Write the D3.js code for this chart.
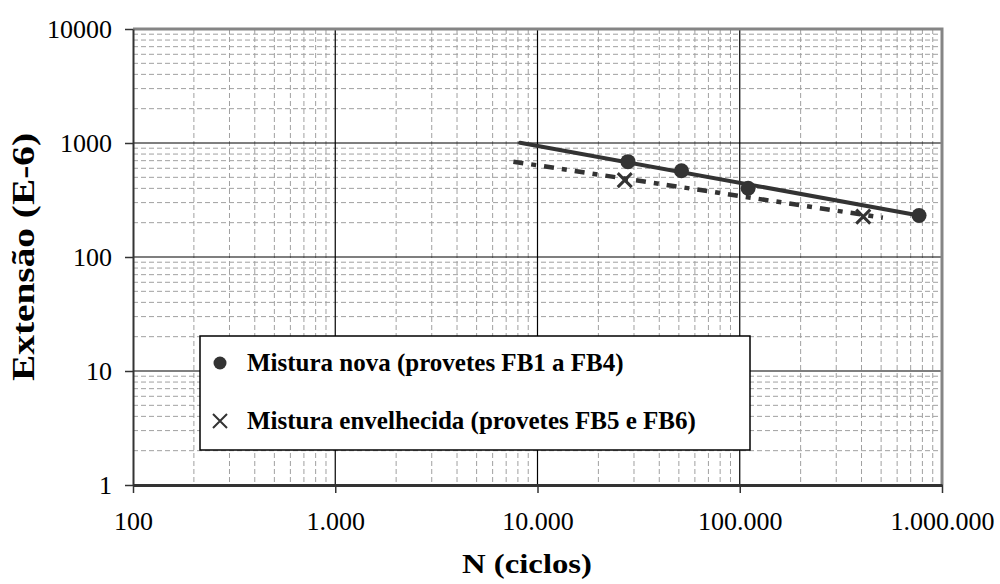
<!DOCTYPE html>
<html>
<head>
<meta charset="utf-8">
<script src="https://cdn.jsdelivr.net/npm/d3@7/dist/d3.min.js"></script>
<style>
  html, body { margin: 0; padding: 0; background: #fff; }
  svg { display: block; }
  text { font-family: "Liberation Serif", "Times New Roman", serif; fill: #000; }
</style>
</head>
<body>
<svg id="chart" width="1000" height="584"></svg>
<script>
// Fatigue results: strain (E-6) against number of cycles, log-log
const nNova = [28000, 51500, 110000, 770000];
const eNova = [686, 571, 401, 231];
const nEnvelhecida = [27000, 408000];
const eEnvelhecida = [473, 226];

// Power-law trend lines, start and end points
const trendNovaN = [8200, 770000];
const trendNovaE = [1005, 231];
const trendEnvN = [7600, 510000];
const trendEnvE = [686, 221];

const xTickValues = [100, 1000, 10000, 100000, 1000000];
const xTickLabels = ["100", "1.000", "10.000", "100.000", "1.000.000"];
const yTickValues = [1, 10, 100, 1000, 10000];
const yTickLabels = ["1", "10", "100", "1000", "10000"];

const legendLabels = [
  "Mistura nova (provetes FB1 a FB4)",
  "Mistura envelhecida (provetes FB5 e FB6)"
];

const svg = d3.select("#chart");
const plot = { left: 133, right: 942, top: 29, bottom: 485 };

const x = d3.scaleLog().domain([100, 1000000]).range([plot.left, plot.right]);
const y = d3.scaleLog().domain([1, 10000]).range([plot.bottom, plot.top]);

// minor values 2..9 inside each decade
const minorX = [];
for (let d = 100; d < 1000000; d *= 10) for (let k = 2; k <= 9; k++) minorX.push(d * k);
const minorY = [];
for (let d = 1; d < 10000; d *= 10) for (let k = 2; k <= 9; k++) minorY.push(d * k);

const grid = svg.append("g");
grid.selectAll("line.mx").data(minorX).join("line")
  .attr("x1", d => x(d)).attr("x2", d => x(d))
  .attr("y1", plot.top).attr("y2", plot.bottom)
  .attr("stroke", "#a0a0a0").attr("stroke-width", 1).attr("stroke-dasharray", "5,3");
grid.selectAll("line.my").data(minorY).join("line")
  .attr("y1", d => y(d)).attr("y2", d => y(d))
  .attr("x1", plot.left).attr("x2", plot.right)
  .attr("stroke", "#a0a0a0").attr("stroke-width", 1).attr("stroke-dasharray", "5,3");
grid.selectAll("line.Mx").data(xTickValues.slice(1, -1)).join("line")
  .attr("x1", d => x(d)).attr("x2", d => x(d))
  .attr("y1", plot.top).attr("y2", plot.bottom)
  .attr("stroke", "#000").attr("stroke-width", 1.2);
grid.selectAll("line.My").data(yTickValues.slice(1, -1)).join("line")
  .attr("y1", d => y(d)).attr("y2", d => y(d))
  .attr("x1", plot.left).attr("x2", plot.right)
  .attr("stroke", "#000").attr("stroke-width", 1.2);

// plot frame (top / right)
svg.append("path")
  .attr("d", `M${plot.left},${plot.top}H${plot.right}V${plot.bottom}`)
  .attr("fill", "none").attr("stroke", "#858585").attr("stroke-width", 3);

// axes
const xAxis = d3.axisBottom(x).tickValues(xTickValues)
  .tickFormat((d, i) => xTickLabels[i]).tickSize(8).tickSizeOuter(0);
const gx = svg.append("g").attr("transform", `translate(0,${plot.bottom})`).call(xAxis);
gx.select(".domain").attr("stroke", "#333").attr("stroke-width", 3);
gx.selectAll(".tick line").attr("stroke", "#333").attr("stroke-width", 1.5);
gx.selectAll(".tick text").attr("y", 45).attr("dy", null)
  .style("font-size", "26px").style("font-family", '"Liberation Serif", serif');

const yAxis = d3.axisLeft(y).tickValues(yTickValues)
  .tickFormat((d, i) => yTickLabels[i]).tickSize(8).tickSizeOuter(0);
const gy = svg.append("g").attr("transform", `translate(${plot.left},0)`).call(yAxis);
gy.select(".domain").attr("stroke", "#333").attr("stroke-width", 2);
gy.selectAll(".tick line").attr("stroke", "#333").attr("stroke-width", 1.5);
gy.selectAll(".tick text").attr("x", -21)
  .style("font-size", "26px").style("font-family", '"Liberation Serif", serif');

// axis titles
svg.append("text")
  .attr("x", 527).attr("y", 573)
  .attr("text-anchor", "middle")
  .attr("textLength", 130).attr("lengthAdjust", "spacingAndGlyphs")
  .style("font-size", "27px").style("font-weight", "bold")
  .text("N (ciclos)");
svg.append("text")
  .attr("transform", `translate(34,${(plot.top + plot.bottom) / 2}) rotate(-90)`)
  .attr("text-anchor", "middle")
  .attr("textLength", 248).attr("lengthAdjust", "spacingAndGlyphs")
  .style("font-size", "31px").style("font-weight", "bold")
  .text("Extensão (E-6)");

const markColor = "#333";

// trend lines
const line = d3.line().x(d => x(d[0])).y(d => y(d[1]));
svg.append("path")
  .datum(d3.zip(trendNovaN, trendNovaE))
  .attr("d", line).attr("fill", "none")
  .attr("stroke", markColor).attr("stroke-width", 4).attr("stroke-linecap", "round");
svg.append("path")
  .datum(d3.zip(trendEnvN, trendEnvE))
  .attr("d", line).attr("fill", "none")
  .attr("stroke", markColor).attr("stroke-width", 4.5)
  .attr("stroke-dasharray", "10,8,5,8");

// series markers
svg.append("g").selectAll("circle")
  .data(d3.zip(nNova, eNova)).join("circle")
  .attr("cx", d => x(d[0])).attr("cy", d => y(d[1])).attr("r", 7.5)
  .attr("fill", markColor);

svg.append("g").selectAll("path")
  .data(d3.zip(nEnvelhecida, eEnvelhecida)).join("path")
  .attr("transform", d => `translate(${x(d[0])},${y(d[1])})`)
  .attr("d", "M-7,-7L7,7M-7,7L7,-7")
  .attr("stroke", markColor).attr("stroke-width", 3).attr("fill", "none");

// legend
const lg = svg.append("g");
lg.append("rect").attr("x", 200).attr("y", 336).attr("width", 550).attr("height", 114)
  .attr("fill", "#fff").attr("stroke", "#000").attr("stroke-width", 1.5);
lg.append("circle").attr("cx", 220).attr("cy", 363).attr("r", 6.5).attr("fill", markColor);
lg.append("path").attr("transform", "translate(220,421)")
  .attr("d", "M-7,-7L7,7M-7,7L7,-7")
  .attr("stroke", markColor).attr("stroke-width", 2).attr("fill", "none");
lg.selectAll("text").data(legendLabels).join("text")
  .attr("x", 247).attr("y", (d, i) => 371 + i * 58)
  .style("font-size", "25px").style("font-weight", "bold")
  .text(d => d);
</script>
</body>
</html>
